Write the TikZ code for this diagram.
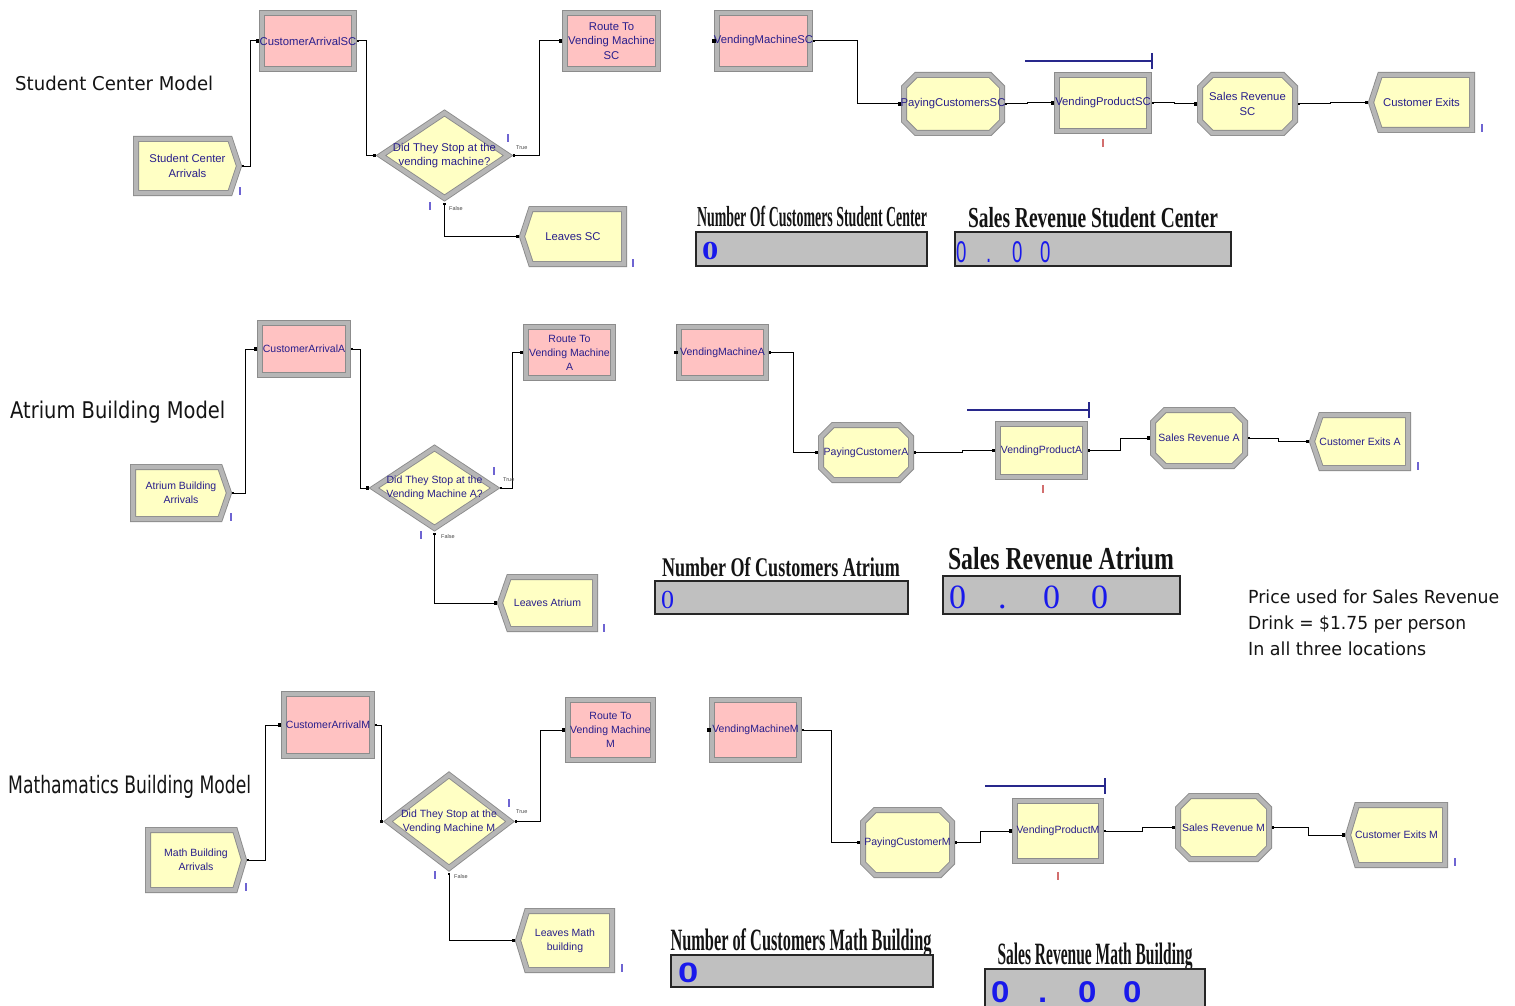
\documentclass[tikz,border=0pt]{standalone}
\usepackage{fontspec}
\usepackage{graphicx}
\setmainfont{Liberation Sans}
\newfontfamily\headfont{DejaVu Sans}
\newfontfamily\dispserif{Liberation Serif}
\newfontfamily\dispsans{Liberation Sans}
\usetikzlibrary{arrows.meta,fit}

\definecolor{modyellow}{RGB}{255,255,196}
\definecolor{modpink}{RGB}{255,194,194}
\definecolor{bevelline}{RGB}{140,140,140}
\definecolor{bevelmid}{RGB}{182,182,182}
\definecolor{labelblue}{RGB}{40,30,140}
\definecolor{countblue}{RGB}{110,100,210}
\definecolor{countred}{RGB}{210,110,110}
\definecolor{queueblue}{RGB}{40,40,140}
\definecolor{dispgray}{RGB}{192,192,192}
\definecolor{digitblue}{RGB}{25,25,235}
\definecolor{flagtext}{RGB}{70,70,70}

% squeeze a text horizontally to a given width (pt), keeping its height
\newcommand\squeeze[2]{\resizebox{#1pt}{\height}{#2}}

% module box: the named node spans the module, its text sits at the centre
\newcommand\modnode[7]{%
  \node[fit={(#3,#4)(#5,#6)}, inner sep=0pt, label={[#2]center:{#7}}] (#1) {};}

% module shapes: name, fill, x1, y1, x2, y2, label style, text
\newcommand\boxmod[8]{%
  \path[band, fill=#2] (#3+3,#4+3) rectangle (#5-3,#6-3);
  \modnode{#1}{#7}{#3}{#4}{#5}{#6}{#8}}
\newcommand\chammod[8]{%
  \path[band, fill=#2] (#3+15,#4+3) -- (#5-15,#4+3) -- (#5-3,#4+15) -- (#5-3,#6-15)
    -- (#5-15,#6-3) -- (#3+15,#6-3) -- (#3+3,#6-15) -- (#3+3,#4+15) -- cycle;
  \modnode{#1}{#7}{#3}{#4}{#5}{#6}{#8}}
\newcommand\decmod[8]{%
  \path[band, fill=#2] ({(#3+#5)/2},#4+5) -- (#5-5,{(#4+#6)/2}) -- ({(#3+#5)/2},#6-5)
    -- (#3+5,{(#4+#6)/2}) -- cycle;
  \modnode{#1}{#7}{#3}{#4}{#5}{#6}{#8}}
\newcommand\createmod[8]{%
  \path[band, fill=#2] (#3+3,#4+3) -- (#5-12,#4+3) -- (#5-3,{(#4+#6)/2}) -- (#5-12,#6-3)
    -- (#3+3,#6-3) -- cycle;
  \modnode{#1}{#7}{#3}{#4}{#5}{#6}{#8}}
\newcommand\disposemod[8]{%
  \path[band, fill=#2] (#3+12,#4+3) -- (#5-3,#4+3) -- (#5-3,#6-3) -- (#3+12,#6-3)
    -- (#3+3,{(#4+#6)/2}) -- cycle;
  \modnode{#1}{#7}{#3}{#4}{#5}{#6}{#8}}

% counter marks and queue lines
\newcommand\counter[3]{\fill[#1] (#2-1,#3-4) rectangle (#2+1,#3+4);}
\newcommand\queue[3]{\draw[queueline] (#1,#3) -- (#2,#3); \draw[queueline] (#2,#3-8) -- (#2,#3+8);}

\tikzset{
  band/.style={draw=bevelline, line width=0.9pt, double=bevelmid, double distance=4.2pt,
    line join=miter},
  lab1/.style={inner sep=0pt, align=center, text=labelblue, font=\fontsize{11.3}{14.5}\selectfont},
  lab2/.style={inner sep=0pt, align=center, text=labelblue, font=\fontsize{10.5}{14}\selectfont},
  conn/.style={draw=black, line width=1pt,
    {Square[length=2.2pt,width=2.2pt]}-{Square[length=3.2pt,width=3.2pt]}},
  queueline/.style={draw=queueblue, line width=1.3pt},
  flag/.style={inner sep=0pt, text=flagtext, font=\fontsize{5.5}{6}\selectfont},
  dispbox/.style={fill=dispgray, draw=black!85, line width=1.5pt},
  digit/.style={inner sep=0pt, text=digitblue},
  plain/.style={inner sep=0pt, text=black!92},
}

\begin{document}
\begin{tikzpicture}[x=1pt,y=-1pt]
\useasboundingbox[fill=white] (0,0) rectangle (1515,1006);

% ---------------- Student Center Model ----------------
\node[plain, anchor=base west] (hSC) at (15,91)
  {\squeeze{198}{\fontsize{19}{19}\headfont Student Center Model}};

\createmod{crSC}{modyellow}{133}{136}{242}{196}{lab1}{Student Center\\Arrivals}
\boxmod{caSC}{modpink}{259}{10}{357}{72}{lab1}{CustomerArrivalSC}
\decmod{dSC}{modyellow}{376}{108}{513}{203}{lab1}{Did They Stop at the\\vending machine?}
\boxmod{rtSC}{modpink}{562}{10}{661}{72}{lab1}{Route To\\Vending Machine\\SC}
\disposemod{lvSC}{modyellow}{519}{206}{627}{267}{lab1}{Leaves SC}
\boxmod{vmSC}{modpink}{714}{10}{813}{72}{lab1}{VendingMachineSC}
\chammod{pcSC}{modyellow}{901}{72}{1005}{136}{lab1}{PayingCustomersSC}
\boxmod{vpSC}{modyellow}{1054}{72}{1152}{134}{lab1}{VendingProductSC}
\chammod{srSC}{modyellow}{1197}{72}{1298}{136}{lab1}{Sales Revenue\\SC}
\disposemod{ceSC}{modyellow}{1368}{72}{1475}{133}{lab1}{Customer Exits}

\draw[conn] (crSC.east) -- ++(8,0) |- (caSC.west);
\draw[conn] (caSC.east) -- ++(9,0) |- (dSC.west);
\draw[conn] (dSC.east) -- ++(26,0) |- (rtSC.west);
\draw[conn] (dSC.south) |- (lvSC.west);
\draw[conn] (vmSC.east) -- ++(44,0) |- (pcSC.west);
\draw[conn] (pcSC.east) -- ++(22,0) |- (vpSC.west);
\draw[conn] (vpSC.east) -- ++(22,0) |- (srSC.west);
\draw[conn] (srSC.east) -- ++(32,0) |- (ceSC.west);
\fill (vmSC.west) ++(-1.5,-1.6) rectangle ++(3.2,3.2);

\node[flag, anchor=west] (tSC) at (516,148) {True};
\node[flag, anchor=west] (fSC) at (449,209) {False};
\queue{1025}{1152}{61}
\counter{countblue}{240}{191}
\counter{countblue}{508}{138}
\counter{countblue}{430}{206}
\counter{countblue}{633}{263}
\counter{countblue}{1482}{128}
\counter{countred}{1103}{143}

% displays
\node[plain, anchor=base] (tnSC) at (812,226)
  {\squeeze{230}{\fontsize{29}{29}\dispserif\bfseries Number Of Customers Student Center}};
\path[dispbox] (696,232) rectangle (927,266);
\node[digit, anchor=base west] (dnSC) at (702,259)
  {\scalebox{1.25}[1]{\fontsize{26}{26}\dispserif\bfseries 0}};
\node[plain, anchor=base] (tsSC) at (1093,227)
  {\squeeze{250}{\fontsize{29}{29}\dispserif\bfseries Sales Revenue Student Center}};
\path[dispbox] (955,232) rectangle (1231,266);
\node[digit, anchor=base west] (dsSCa) at (956,262) {\scalebox{0.62}[1]{\fontsize{30}{30}\dispsans 0}};
\node[digit, anchor=base west] (dsSCb) at (986,262) {\scalebox{0.62}[1]{\fontsize{30}{30}\dispsans .}};
\node[digit, anchor=base west] (dsSCc) at (1012,262) {\scalebox{0.62}[1]{\fontsize{30}{30}\dispsans 0}};
\node[digit, anchor=base west] (dsSCd) at (1040,262) {\scalebox{0.62}[1]{\fontsize{30}{30}\dispsans 0}};

% ---------------- Atrium Building Model ----------------
\node[plain, anchor=base west] (hA) at (10,418)
  {\squeeze{215}{\fontsize{23}{23}\headfont Atrium Building Model}};

\createmod{crA}{modyellow}{130}{464}{232}{522}{lab2}{Atrium Building\\Arrivals}
\boxmod{caA}{modpink}{257}{320}{351}{378}{lab2}{CustomerArrivalA}
\decmod{dA}{modyellow}{369}{443}{500}{533}{lab2}{Did They Stop at the\\Vending Machine A?}
\boxmod{rtA}{modpink}{523}{324}{616}{381}{lab2}{Route To\\Vending Machine\\A}
\disposemod{lvA}{modyellow}{497}{574}{598}{632}{lab2}{Leaves Atrium}
\boxmod{vmA}{modpink}{676}{324}{769}{381}{lab2}{VendingMachineA}
\chammod{pcA}{modyellow}{818}{422}{914}{483}{lab2}{PayingCustomerA}
\boxmod{vpA}{modyellow}{995}{421}{1088}{480}{lab2}{VendingProductA}
\chammod{srA}{modyellow}{1150}{407}{1248}{469}{lab2}{Sales Revenue A}
\disposemod{ceA}{modyellow}{1309}{412}{1411}{471}{lab2}{Customer Exits A}

\draw[conn] (crA.east) -- ++(13,0) |- (caA.west);
\draw[conn] (caA.east) -- ++(9,0) |- (dA.west);
\draw[conn] (dA.east) -- ++(12,0) |- (rtA.west);
\draw[conn] (dA.south) |- (lvA.west);
\draw[conn] (vmA.east) -- ++(24,0) |- (pcA.west);
\draw[conn] (pcA.east) -- ++(48,0) |- (vpA.west);
\draw[conn] (vpA.east) -- ++(32,0) |- (srA.west);
\draw[conn] (srA.east) -- ++(30,0) |- (ceA.west);
\fill (vmA.west) ++(-1.5,-1.6) rectangle ++(3.2,3.2);

\node[flag, anchor=west] (tA) at (503,480) {True};
\node[flag, anchor=west] (fA) at (441,537) {False};
\queue{967}{1089}{410}
\counter{countblue}{231}{517}
\counter{countblue}{494}{471}
\counter{countblue}{421}{535}
\counter{countblue}{604}{628}
\counter{countblue}{1418}{466}
\counter{countred}{1043}{489}

\node[plain, anchor=base] (tnA) at (781,576)
  {\squeeze{238}{\fontsize{27}{27}\dispserif\bfseries Number Of Customers Atrium}};
\path[dispbox] (655,581) rectangle (908,614);
\node[digit, anchor=base west] (dnA) at (661,608) {\fontsize{26}{26}\dispserif 0};
\node[plain, anchor=base] (tsA) at (1061,569)
  {\squeeze{226}{\fontsize{32}{32}\dispserif\bfseries Sales Revenue Atrium}};
\path[dispbox] (943,576) rectangle (1180,614);
\node[digit, anchor=base west] (dsAa) at (949,608) {\fontsize{34}{34}\dispserif 0};
\node[digit, anchor=base west] (dsAb) at (998,608) {\fontsize{34}{34}\dispserif .};
\node[digit, anchor=base west] (dsAc) at (1043,608) {\fontsize{34}{34}\dispserif 0};
\node[digit, anchor=base west] (dsAd) at (1091,608) {\fontsize{34}{34}\dispserif 0};

\node[plain, anchor=base west] (pr1) at (1248,603)
  {\squeeze{251}{\fontsize{18}{18}\headfont Price used for Sales Revenue}};
\node[plain, anchor=base west] (pr2) at (1248,629)
  {\squeeze{218}{\fontsize{18}{18}\headfont Drink = \$1.75 per person}};
\node[plain, anchor=base west] (pr3) at (1248,655)
  {\squeeze{178}{\fontsize{18}{18}\headfont In all three locations}};

% ---------------- Mathematics Building Model ----------------
\node[plain, anchor=base west] (hM) at (8,793)
  {\squeeze{243}{\fontsize{24}{24}\headfont Mathamatics Building Model}};

\createmod{crM}{modyellow}{145}{827}{247}{893}{lab2}{Math Building\\Arrivals}
\boxmod{caM}{modpink}{281}{691}{375}{759}{lab2}{CustomerArrivalM}
\decmod{dM}{modyellow}{383}{770}{515}{873}{lab2}{Did They Stop at the\\Vending Machine M}
\boxmod{rtM}{modpink}{565}{697}{656}{763}{lab2}{Route To\\Vending Machine\\M}
\disposemod{lvM}{modyellow}{515}{908}{615}{973}{lab2}{Leaves Math\\building}
\boxmod{vmM}{modpink}{709}{697}{802}{763}{lab2}{VendingMachineM}
\chammod{pcM}{modyellow}{860}{807}{955}{878}{lab2}{PayingCustomerM}
\boxmod{vpM}{modyellow}{1012}{798}{1104}{864}{lab2}{VendingProductM}
\chammod{srM}{modyellow}{1175}{793}{1272}{862}{lab2}{Sales Revenue M}
\disposemod{ceM}{modyellow}{1345}{802}{1448}{868}{lab2}{Customer Exits M}

\draw[conn] (crM.east) -- ++(18,0) |- (caM.west);
\draw[conn] (caM.east) -- ++(6,0) |- (dM.west);
\draw[conn] (dM.east) -- ++(25,0) |- (rtM.west);
\draw[conn] (dM.south) |- (lvM.west);
\draw[conn] (vmM.east) -- ++(29,0) |- (pcM.west);
\draw[conn] (pcM.east) -- ++(25,0) |- (vpM.west);
\draw[conn] (vpM.east) -- ++(38,0) |- (srM.west);
\draw[conn] (srM.east) -- ++(36,0) |- (ceM.west);
\fill (vmM.west) ++(-1.5,-1.6) rectangle ++(3.2,3.2);

\node[flag, anchor=west] (tM) at (516,812) {True};
\node[flag, anchor=west] (fM) at (454,877) {False};
\queue{985}{1105}{786}
\counter{countblue}{246}{887}
\counter{countblue}{509}{803}
\counter{countblue}{435}{875}
\counter{countblue}{622}{968}
\counter{countblue}{1455}{862}
\counter{countred}{1058}{876}

\node[plain, anchor=base] (tnM) at (801,950)
  {\squeeze{261}{\fontsize{31}{31}\dispserif\bfseries Number of Customers Math Building}};
\path[dispbox] (671,955) rectangle (933,987);
\node[digit, anchor=base west] (dnM) at (678,982)
  {\scalebox{1.3}[1]{\fontsize{28}{28}\dispsans\bfseries 0}};
\node[plain, anchor=base] (tsM) at (1095,964)
  {\squeeze{195}{\fontsize{31}{31}\dispserif\bfseries Sales Revenue Math Building}};
\path[dispbox] (985,969) rectangle (1205,1012);
\node[digit, anchor=base west] (dsMa) at (991,1002) {\scalebox{1.1}[1]{\fontsize{30}{30}\dispsans\bfseries 0}};
\node[digit, anchor=base west] (dsMb) at (1038,1002) {\scalebox{1.1}[1]{\fontsize{30}{30}\dispsans\bfseries .}};
\node[digit, anchor=base west] (dsMc) at (1078,1002) {\scalebox{1.1}[1]{\fontsize{30}{30}\dispsans\bfseries 0}};
\node[digit, anchor=base west] (dsMd) at (1123,1002) {\scalebox{1.1}[1]{\fontsize{30}{30}\dispsans\bfseries 0}};
\end{tikzpicture}
\end{document}
